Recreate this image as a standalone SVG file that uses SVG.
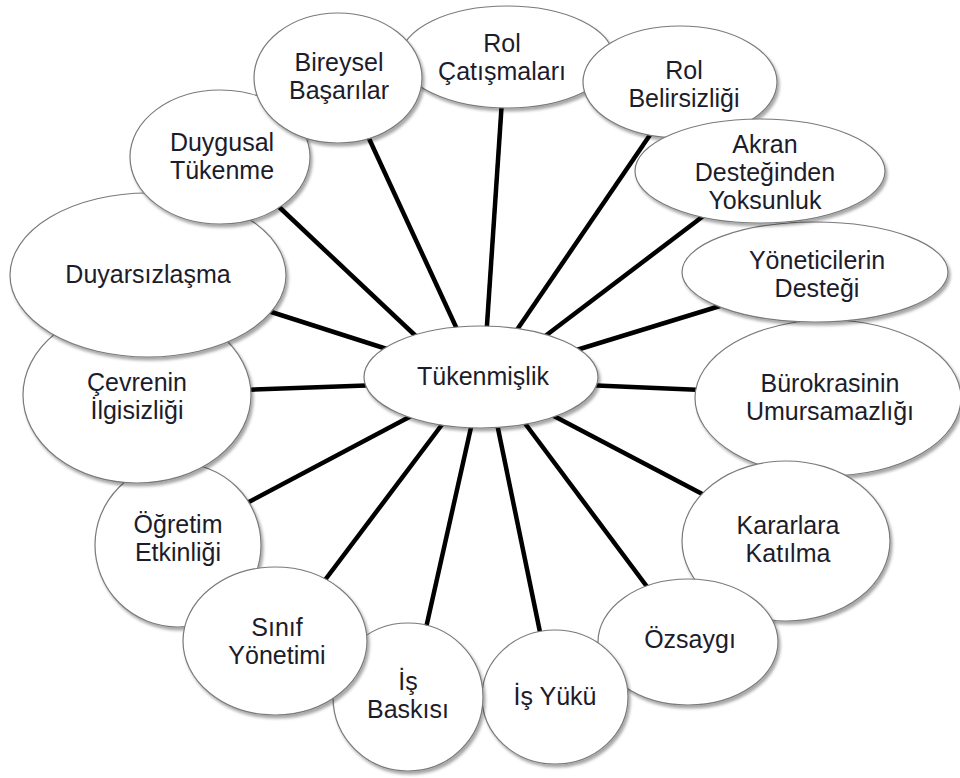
<svg xmlns="http://www.w3.org/2000/svg" width="960" height="778" viewBox="0 0 960 778">
  <defs>
    <filter id="shadow" x="-10%" y="-10%" width="125%" height="130%">
      <feDropShadow dx="2" dy="3" stdDeviation="1.8" flood-color="#000" flood-opacity="0.35"/>
    </filter>
    <style>
      .node ellipse { fill: #ffffff; stroke: #7a7a7a; stroke-width: 1.2; filter: url(#shadow); }
      .node text { font-family: "Liberation Sans", Arial, sans-serif; font-size: 25px; fill: #1c1c2a; text-anchor: middle; }
      #connectors line { stroke: #000; stroke-width: 4.5; stroke-linecap: butt; }
    </style>
  </defs>
  <rect width="960" height="778" fill="#ffffff"/>

  <!-- spokes from the hub to each factor -->
  <g id="connectors">
    <line x1="486" y1="340" x2="502" y2="100"/>
    <line x1="462" y1="340" x2="366" y2="132"/>
    <line x1="510" y1="340" x2="652" y2="132"/>
    <line x1="540" y1="340" x2="706" y2="214"/>
    <line x1="570" y1="352" x2="720" y2="306"/>
    <line x1="585" y1="385" x2="702" y2="390"/>
    <line x1="550" y1="414" x2="708" y2="497"/>
    <line x1="518" y1="414" x2="648" y2="588"/>
    <line x1="495" y1="414" x2="541" y2="637"/>
    <line x1="474" y1="414" x2="426" y2="628"/>
    <line x1="450" y1="414" x2="322" y2="584"/>
    <line x1="415" y1="414" x2="245" y2="504"/>
    <line x1="380" y1="385" x2="243" y2="390"/>
    <line x1="390" y1="350" x2="262" y2="309"/>
    <line x1="420" y1="340" x2="277" y2="205"/>
  </g>

  <g id="ogretim-etkinligi" class="node">
    <ellipse cx="178" cy="545" rx="83" ry="82"/>
    <text x="178" y="532.5">Öğretim</text>
    <text x="178" y="560.5">Etkinliği</text>
  </g>
  <g id="cevrenin-ilgisizligi" class="node">
    <ellipse cx="137" cy="395" rx="114" ry="88"/>
    <text x="137" y="390.5">Çevrenin</text>
    <text x="137" y="418.5">İlgisizliği</text>
  </g>
  <g id="duyarsizlasma" class="node">
    <ellipse cx="148" cy="275" rx="138" ry="82"/>
    <text x="148" y="283">Duyarsızlaşma</text>
  </g>
  <g id="duygusal-tukenme" class="node">
    <ellipse cx="220" cy="157" rx="90" ry="67"/>
    <text x="222" y="150.5">Duygusal</text>
    <text x="222" y="178.5">Tükenme</text>
  </g>
  <g id="rol-catismalari" class="node">
    <ellipse cx="507" cy="57" rx="106" ry="51"/>
    <text x="502" y="52">Rol</text>
    <text x="502" y="80">Çatışmaları</text>
  </g>
  <g id="bireysel-basarilar" class="node">
    <ellipse cx="338" cy="78" rx="84" ry="65"/>
    <text x="339" y="70.5">Bireysel</text>
    <text x="339" y="98.5">Başarılar</text>
  </g>
  <g id="rol-belirsizligi" class="node">
    <ellipse cx="680" cy="82" rx="97" ry="56"/>
    <text x="684" y="79">Rol</text>
    <text x="684" y="107">Belirsizliği</text>
  </g>
  <g id="burokrasinin-umursamazligi" class="node">
    <ellipse cx="828" cy="398" rx="133" ry="78"/>
    <text x="830" y="391.5">Bürokrasinin</text>
    <text x="830" y="419.5">Umursamazlığı</text>
  </g>
  <g id="yoneticilerin-destegi" class="node">
    <ellipse cx="815" cy="272" rx="133" ry="50"/>
    <text x="817" y="268.5">Yöneticilerin</text>
    <text x="817" y="296.5">Desteği</text>
  </g>
  <g id="akran-desteginden-yoksunluk" class="node">
    <ellipse cx="760" cy="171" rx="125" ry="52"/>
    <text x="765" y="153">Akran</text>
    <text x="765" y="181">Desteğinden</text>
    <text x="765" y="209">Yoksunluk</text>
  </g>
  <g id="kararlara-katilma" class="node">
    <ellipse cx="786" cy="541" rx="104" ry="80"/>
    <text x="788" y="533.5">Kararlara</text>
    <text x="788" y="561.5">Katılma</text>
  </g>
  <g id="ozsaygi" class="node">
    <ellipse cx="688" cy="642" rx="90" ry="63"/>
    <text x="690" y="648">Özsaygı</text>
  </g>
  <g id="is-yuku" class="node">
    <ellipse cx="555" cy="697" rx="73" ry="67"/>
    <text x="555" y="705">İş Yükü</text>
  </g>
  <g id="is-baskisi" class="node">
    <ellipse cx="408" cy="697" rx="75" ry="74"/>
    <text x="408" y="689.5">İş</text>
    <text x="408" y="717.5">Baskısı</text>
  </g>
  <g id="sinif-yonetimi" class="node">
    <ellipse cx="275" cy="641" rx="92" ry="74"/>
    <text x="277" y="635.5">Sınıf</text>
    <text x="277" y="663.5">Yönetimi</text>
  </g>

  <g id="tukenmislik" class="node">
    <ellipse cx="481" cy="377" rx="117" ry="51"/>
    <text x="483" y="385">Tükenmişlik</text>
  </g>
</svg>
